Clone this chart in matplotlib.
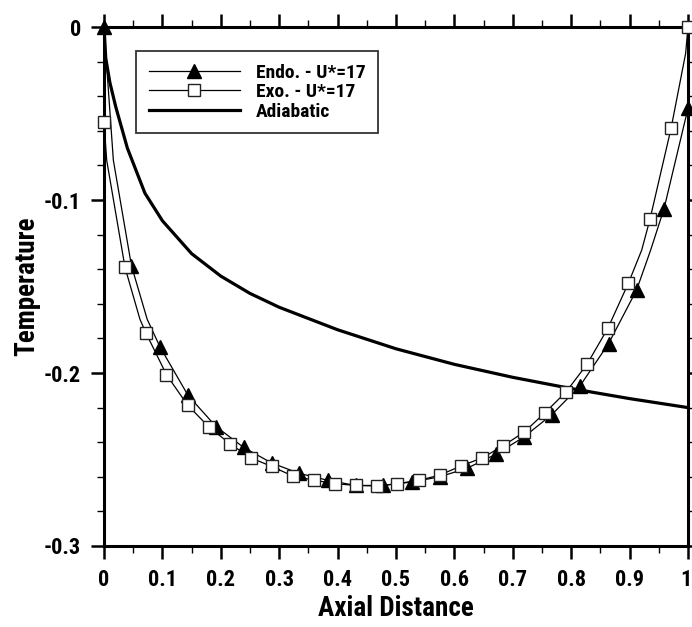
import matplotlib
matplotlib.use("Agg")
import matplotlib.pyplot as plt
import matplotlib.transforms as mtransforms
from matplotlib.ticker import MultipleLocator
from matplotlib import font_manager

# condensed bold face if one is installed (reference text is tall and narrow)
fam = ['Liberation Sans', 'DejaVu Sans']
stretch = 'normal'
for f in font_manager.fontManager.ttflist:
    if f.name in ('Liberation Sans Narrow', 'Roboto Condensed', 'Open Sans Condensed'):
        fam = [f.name, 'DejaVu Sans']
        break
    if f.name == 'DejaVu Sans' and f.stretch == 'condensed':
        fam = ['DejaVu Sans']
        stretch = 'condensed'
plt.rcParams['font.family'] = fam
plt.rcParams['font.weight'] = 'bold'
plt.rcParams['font.stretch'] = stretch

# Endo. - U*=17 (filled triangles), x = i/21
endo_x = [0.0, 0.047, 0.096, 0.144, 0.192, 0.239, 0.287, 0.334, 0.383, 0.431, 0.478,
          0.527, 0.575, 0.622, 0.671, 0.719, 0.767, 0.815, 0.864, 0.912, 0.959, 1.0]
endo_y = [0.0, -0.138, -0.185, -0.213, -0.231, -0.243, -0.252, -0.258, -0.262, -0.265, -0.265,
          -0.263, -0.260, -0.255, -0.247, -0.237, -0.224, -0.2075, -0.183, -0.152, -0.105, -0.047]
# extra points (steep ends)
endo_line_x = [0.003, 0.016, 0.074, 0.936]
endo_line_y = [-0.015, -0.077, -0.169, -0.129]

# Exo. - U*=17 (open squares), x = i/28
exo_x = [0.0, 0.036, 0.072, 0.107, 0.143, 0.179, 0.216, 0.251, 0.287, 0.323, 0.360, 0.396,
         0.431, 0.467, 0.502, 0.540, 0.575, 0.611, 0.648, 0.684, 0.720, 0.755, 0.791, 0.827,
         0.863, 0.898, 0.935, 0.971, 1.0]
exo_y = [-0.055, -0.139, -0.177, -0.201, -0.2185, -0.231, -0.241, -0.249, -0.254, -0.2595,
         -0.262, -0.264, -0.265, -0.2653, -0.264, -0.262, -0.259, -0.2538, -0.249, -0.242,
         -0.234, -0.223, -0.211, -0.195, -0.174, -0.148, -0.111, -0.0586, 0.0]
exo_line_x = [0.0046, 0.0616, 0.9207, 0.996]
exo_line_y = [-0.077, -0.169, -0.129, -0.0152]

# Adiabatic
adia_x = [0.0, 0.003, 0.01, 0.02, 0.04, 0.07, 0.1, 0.15, 0.2, 0.25, 0.3, 0.4, 0.5,
          0.6, 0.7, 0.8, 0.9, 1.0]
adia_y = [0.0, -0.018, -0.032, -0.046, -0.070, -0.096, -0.112, -0.131, -0.144, -0.154,
          -0.162, -0.175, -0.186, -0.195, -0.2025, -0.209, -0.2148, -0.220]

x_ticks = [0, 0.1, 0.2, 0.3, 0.4, 0.5, 0.6, 0.7, 0.8, 0.9, 1.0]
x_labels = ['0', '0.1', '0.2', '0.3', '0.4', '0.5', '0.6', '0.7', '0.8', '0.9', '1']
y_ticks = [0, -0.1, -0.2, -0.3]
y_labels = ['0', '-0.1', '-0.2', '-0.3']


def merged(mx, my, lx, ly):
    pts = sorted([(x, y, True) for x, y in zip(mx, my)] + [(x, y, False) for x, y in zip(lx, ly)])
    xs = [p[0] for p in pts]
    ys = [p[1] for p in pts]
    marks = [i for i, p in enumerate(pts) if p[2]]
    return xs, ys, marks


fig = plt.figure(figsize=(6.92, 6.27), dpi=100)
ax = fig.add_axes([0.1503, 0.1292, 0.8439, 0.8277])

ex, ey, em = merged(endo_x, endo_y, endo_line_x, endo_line_y)
ax.plot(ex, ey, color='black', lw=0.9, marker='^', ms=10, mfc='black', mec='black',
        markevery=em, clip_on=False, zorder=4, label='Endo. - U*=17')
xx, xy, xm = merged(exo_x, exo_y, exo_line_x, exo_line_y)
ax.plot(xx, xy, color='black', lw=0.9, marker='s', ms=9, mfc='white', mec='#222222',
        mew=1.0, markevery=xm, clip_on=False, zorder=4, label='Exo. - U*=17')
ax.plot(adia_x, adia_y, color='black', lw=2.3, label='Adiabatic')

ax.set_xlim(0, 1)
ax.set_ylim(-0.3, 0)
ax.xaxis.set_minor_locator(MultipleLocator(0.05))
ax.yaxis.set_minor_locator(MultipleLocator(0.02))
ax.set_xticks(x_ticks)
ax.set_xticklabels(x_labels)
ax.set_yticks(y_ticks)
ax.set_yticklabels(y_labels)

for s in ax.spines.values():
    s.set_linewidth(2.2)
ax.tick_params(which='both', direction='out', top=True, right=True, labelsize=16)
ax.tick_params(which='major', length=9.5, width=1.8, pad=7)
ax.tick_params(which='minor', length=5, width=1.0)

# keep the last x label inside the canvas
last = ax.get_xticklabels()[-1]
last.set_transform(last.get_transform() +
                   mtransforms.ScaledTranslation(-2 / 100, 0, fig.dpi_scale_trans))

ax.set_xlabel('Axial Distance', fontsize=19.5, fontweight='bold', labelpad=3)
ax.set_ylabel('Temperature', fontsize=19.5, fontweight='bold', labelpad=3)

leg = ax.legend(loc='upper left', bbox_to_anchor=(0.0548, 0.9538), fontsize=14,
                frameon=True, fancybox=False, edgecolor='black', handlelength=4.7,
                borderpad=0.65, labelspacing=0.08, handletextpad=0.82, borderaxespad=0)
leg.get_frame().set_linewidth(1.3)
for t in leg.get_texts():
    t.set_fontweight('bold')

fig.savefig('out.png', dpi=100)
